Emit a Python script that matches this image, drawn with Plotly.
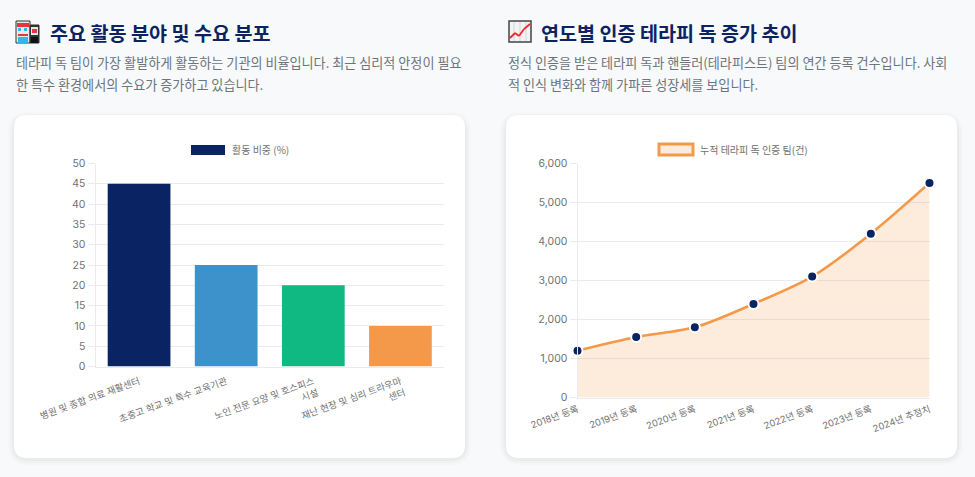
import plotly.graph_objects as go

WIDTH = 975
HEIGHT = 477
FONT = "Noto Sans CJK KR"
TICK_FONT = "Inter, Noto Sans CJK KR"

NAVY = "#0a2463"
PAGE_BG = "#f8f9fb"
GRID = "#e9ebef"
TICK_TEXT = "#707070"
BODY_TEXT = "#6c757d"
ORANGE = "#f4994a"

# 왼쪽 차트
fields = [
    "병원 및 종합 의료 재활센터",
    "초중고 학교 및 특수 교육기관",
    "노인 전문 요양 및 호스피스<br>시설",
    "재난 현장 및 심리 트라우마<br>센터",
]
field_share = [45, 25, 20, 10]
field_colors = [NAVY, "#3e92cc", "#10b981", ORANGE]

# 오른쪽 차트
years = [
    "2018년 등록",
    "2019년 등록",
    "2020년 등록",
    "2021년 등록",
    "2022년 등록",
    "2023년 등록",
    "2024년 추정치",
]
certified_teams = [1200, 1550, 1800, 2400, 3100, 4200, 5500]


def px_x(x):
    return x / WIDTH


def px_y(y):
    return 1 - y / HEIGHT


def rect(x0, y0, x1, y1, fill, line=None, width=0):
    return dict(
        type="rect", xref="paper", yref="paper", layer="below",
        x0=px_x(x0), x1=px_x(x1), y0=px_y(y0), y1=px_y(y1),
        fillcolor=fill, line=dict(color=line or fill, width=width),
    )


def seg(x0, y0, x1, y1, color, width=1):
    return dict(
        type="line", xref="paper", yref="paper", layer="below",
        x0=px_x(x0), x1=px_x(x1), y0=px_y(y0), y1=px_y(y1),
        line=dict(color=color, width=width),
    )


def rounded(x0, y0, x1, y1, r, fill):
    X0, X1 = px_x(x0), px_x(x1)
    Y0, Y1 = px_y(y0), px_y(y1)
    rx, ry = r / WIDTH, r / HEIGHT
    path = (
        f"M{X0 + rx},{Y0} L{X1 - rx},{Y0} Q{X1},{Y0} {X1},{Y0 - ry} "
        f"L{X1},{Y1 + ry} Q{X1},{Y1} {X1 - rx},{Y1} "
        f"L{X0 + rx},{Y1} Q{X0},{Y1} {X0},{Y1 + ry} "
        f"L{X0},{Y0 - ry} Q{X0},{Y0} {X0 + rx},{Y0} Z"
    )
    return dict(
        type="path", path=path, xref="paper", yref="paper", layer="below",
        fillcolor=fill, line=dict(width=0),
    )


def label(x, y, text, size, color, weight=400):
    return dict(
        x=px_x(x), y=px_y(y), xref="paper", yref="paper",
        xanchor="left", yanchor="middle", showarrow=False, text=text,
        font=dict(family=FONT, size=size, color=color, weight=weight),
    )


def card(x0, x1):
    # 옅은 그림자 + 흰 카드
    out = []
    for grow, alpha in [(6, 0.012), (4, 0.018), (2, 0.025)]:
        out.append(rounded(x0 - grow, 115 - grow + 3, x1 + grow, 458 + grow + 1, 14 + grow, f"rgba(0,0,0,{alpha})"))
    out.append(rounded(x0, 115, x1, 458, 13, "#ffffff"))
    return out


def hospital_icon():
    s = [
        rect(16, 21, 30, 43, "#e8e8e8", "#333333", 1),
        rect(30, 25, 39, 43, "#333333", "#333333", 1),
        rect(31, 27, 38, 35, "#e8e8e8"),
        rect(32, 29, 37, 33, "#e8343c"),
        rect(17, 23, 29, 27, "#e8343c"),
        rect(18, 28, 21, 31, "#35b5ef"),
        rect(24, 28, 27, 31, "#35b5ef"),
        rect(18, 37, 28, 43, "#35b5ef"),
        rect(18, 34, 28, 36, "#e8343c"),
        rect(31, 37, 38, 43, "#111111"),
    ]
    return s


def chart_icon():
    s = [rect(509, 21, 531, 42, "#f3f3f3", "#444444", 1.5)]
    for p in (514, 520, 526):
        s.append(seg(p, 22, p, 41, "#d5d5d5"))
        s.append(seg(510, p + 2, 530, p + 2, "#d5d5d5"))
    pts = [(510, 38), (515, 33), (519, 36), (524, 29), (530, 24)]
    for a, b in zip(pts, pts[1:]):
        s.append(seg(a[0], a[1], b[0], b[1], "#f0282f", 1.8))
    return s


fig = go.Figure()

fig.add_trace(go.Bar(
    x=fields, y=field_share, xaxis="x", yaxis="y", width=0.72,
    marker=dict(color=field_colors, line=dict(width=0)), showlegend=False,
))
fig.add_trace(go.Scatter(
    x=years, y=certified_teams, xaxis="x2", yaxis="y2", mode="lines+markers",
    line=dict(color=ORANGE, width=2.6, shape="spline", smoothing=0.8),
    fill="tozeroy", fillcolor="rgba(244,153,74,0.2)",
    marker=dict(color=NAVY, size=10, line=dict(color="#ffffff", width=2)),
    showlegend=False, cliponaxis=False,
))

axis_font = dict(family=TICK_FONT, size=10.5, color=TICK_TEXT)
x_font = dict(family=TICK_FONT, size=9.4, color=TICK_TEXT)

shapes = card(14, 465) + card(506, 957) + hospital_icon() + chart_icon()
shapes.append(rect(191, 145, 225, 155, NAVY))
shapes.append(rect(659, 144, 693, 155, "rgba(244,153,74,0.2)", ORANGE, 3))

annotations = [
    label(47.5, 32, "주요 활동 분야 및 수요 분포", 19.6, NAVY, 700),
    label(14, 62, "테라피 독 팀이 가장 활발하게 활동하는 기관의 비율입니다. 최근 심리적 안정이 필요", 13.1, BODY_TEXT),
    label(14, 84.5, "한 특수 환경에서의 수요가 증가하고 있습니다.", 13.1, BODY_TEXT),
    label(538.5, 32, "연도별 인증 테라피 독 증가 추이", 19.6, NAVY, 700),
    label(506, 62, "정식 인증을 받은 테라피 독과 핸들러(테라피스트) 팀의 연간 등록 건수입니다. 사회", 13.1, BODY_TEXT),
    label(506, 84.5, "적 인식 변화와 함께 가파른 성장세를 보입니다.", 13.1, BODY_TEXT),
    label(229.5, 150, "활동 비중 (%)", 10, TICK_TEXT),
    label(697.5, 150, "누적 테라피 독 인증 팀(건)", 10, TICK_TEXT),
]

fig.update_layout(
    width=WIDTH,
    height=HEIGHT,
    margin=dict(l=0, r=0, t=0, b=0),
    paper_bgcolor=PAGE_BG,
    plot_bgcolor="rgba(0,0,0,0)",
    shapes=shapes,
    annotations=annotations,
    xaxis=dict(
        domain=[px_x(95.5), px_x(444)], anchor="y", type="category",
        tickangle=-20, tickfont=x_font, showgrid=False, showline=True,
        linecolor=GRID, ticks="", automargin=False, ticklabelstandoff=5,
    ),
    yaxis=dict(
        domain=[px_y(366.5), px_y(163.5)], anchor="x", range=[0, 50], dtick=5,
        tickfont=axis_font, gridcolor=GRID, showline=True, linecolor=GRID,
        ticks="outside", ticklen=7, tickcolor=GRID, zeroline=False, automargin=False,
    ),
    xaxis2=dict(
        domain=[px_x(577.5), px_x(929.5)], anchor="y2", type="category", range=[0, 6],
        tickangle=-20, tickfont=x_font, showgrid=False, showline=True,
        linecolor=GRID, ticks="", automargin=False, ticklabelstandoff=2,
    ),
    yaxis2=dict(
        domain=[px_y(397.5), px_y(163.5)], anchor="x2", range=[0, 6000], dtick=1000,
        tickformat=",", tickfont=axis_font, gridcolor=GRID, showline=True, linecolor=GRID,
        ticks="outside", ticklen=7, tickcolor=GRID, zeroline=False, automargin=False,
    ),
)

fig.write_html(
    "out.html",
    config=dict(displayModeBar=False),
    post_script="document.body.style.margin='0';document.body.style.overflow='hidden';document.body.style.background='" + PAGE_BG + "';",
)
